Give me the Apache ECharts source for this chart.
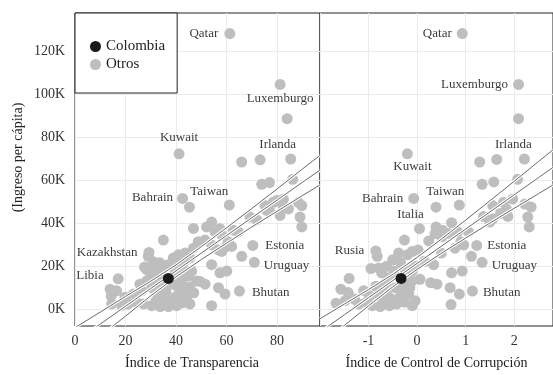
<!DOCTYPE html>
<html>
<head>
<meta charset="utf-8">
<script src="https://cdn.jsdelivr.net/npm/echarts@6/dist/echarts.min.js"></script>
<style>
  html, body { margin: 0; padding: 0; background: #fff; overflow: hidden; }
  #chart { width: 553px; height: 375px; }
</style>
</head>
<body>
<div id="chart"></div>
<script>
// ingreso per cápita en miles (K)
const yTicks = [0, 20, 40, 60, 80, 100, 120];

// panel izquierdo: índice de transparencia vs ingreso
const transOthers = [
  [84.0, 88.7], [66.0, 68.5], [73.3, 69.5],
  [73.9, 58.1], [77.0, 58.9], [86.2, 60.4], [45.3, 47.4],
  [75.2, 48.2], [78.5, 49.7], [82.5, 51.2], [77.0, 45.9], [81.2, 43.6], [88.4, 49.7],
  [89.8, 48.2], [89.1, 42.8], [89.8, 38.2], [69.3, 42.8], [72.0, 41.5], [75.9, 45.9],
  [84.5, 46.6], [82.5, 47.4], [79.9, 50.5],
  [57.4, 37.4], [46.9, 37.5], [54.1, 40.5], [52.1, 38.2], [55.4, 35.9], [58.1, 34.4],
  [62.7, 36.7], [64.7, 35.9], [60.7, 31.3], [62.0, 29.1], [58.1, 26.8], [66.0, 24.5], [59.8, 29.0],
  [35.0, 32.1], [29.0, 24.5], [46.9, 28.3], [48.8, 31.3], [51.5, 32.1], [54.1, 29.8],
  [56.8, 27.5], [43.6, 26.0], [45.5, 23.7], [40.9, 25.2], [38.9, 23.7], [40.3, 22.2],
  [42.9, 21.4], [54.1, 20.6], [57.4, 16.8], [60.1, 17.6], [48.2, 13.0], [51.5, 11.5],
  [56.8, 9.9], [59.4, 6.9], [54.1, 1.5], [45.5, 2.3], [44.2, 4.6], [43.6, 8.4], [42.2, 13.0],
  [44.9, 15.3], [46.2, 17.6], [43.6, 17.6], [39.6, 17.6], [33.7, 18.3], [31.7, 19.1],
  [28.4, 18.3], [29.7, 17.6], [33.0, 16.1], [34.3, 13.8], [31.7, 12.2], [30.4, 9.9],
  [32.3, 7.6], [34.3, 6.1], [36.3, 4.6], [38.3, 3.1], [40.3, 1.5], [37.0, 1.1], [33.7, 1.1],
  [30.4, 1.5], [27.1, 2.3], [24.4, 3.1], [21.1, 2.3], [18.5, 1.5], [14.5, 2.3], [14.3, 6.1],
  [13.9, 9.2], [16.5, 8.4], [19.8, 5.4], [23.1, 6.9], [26.4, 8.4], [28.4, 13.0], [25.7, 11.5],
  [40.9, 9.9], [38.9, 11.5], [41.6, 6.9], [39.6, 5.4], [45.5, 10.2], [36.0, 8.0], [35.0, 10.5],
  [38.0, 14.0], [41.0, 15.5], [36.5, 20.5], [33.5, 21.5], [31.0, 22.0], [27.5, 19.5],
  [30.0, 15.0], [32.0, 3.5], [35.5, 2.5], [42.5, 2.8], [47.0, 7.5], [49.5, 12.8]
];
const transNames = ['Qatar', 'Luxemburgo', 'Kuwait', 'Irlanda', 'Taiwan', 'Bahrain',
  'Kazakhstan', 'Libia', 'Estonia', 'Uruguay', 'Bhutan'];
const transX = [61.3, 81.2, 41.2, 85.4, 61.1, 42.6, 29.3, 17.1, 70.4, 71.0, 65.1];
const transY = [128.4, 104.7, 72.3, 69.9, 48.4, 51.5, 26.3, 14.0, 29.6, 21.7, 8.3];
const transColombia = [36.95, 14.2];

// panel derecho: índice de control de corrupción vs ingreso
const corrOthers = [
  [2.09, 88.7], [1.29, 68.5], [1.64, 69.7],
  [1.34, 58.1], [1.58, 59.2], [2.07, 60.4], [0.39, 47.4],
  [1.56, 48.2], [1.78, 49.7], [1.97, 51.2], [2.22, 48.9], [1.37, 43.1], [1.56, 42.0],
  [1.87, 43.1], [2.28, 42.8], [2.31, 38.2], [1.84, 46.6], [1.72, 44.5], [1.50, 40.5], [2.35, 47.5],
  [0.71, 40.2], [0.39, 38.2], [0.52, 36.7], [0.24, 31.7], [-0.26, 32.1], [0.02, 27.5],
  [-0.10, 26.8], [-0.20, 25.2], [0.51, 33.6], [0.65, 35.2], [0.84, 35.9], [1.06, 35.9],
  [0.96, 29.8], [0.78, 28.3], [0.50, 26.0], [1.12, 24.5], [0.37, 35.1], [0.90, 31.3],
  [-0.82, 24.5], [-0.50, 22.9], [-0.34, 21.4], [0.15, 22.2], [0.34, 20.6], [-0.95, 18.8],
  [-0.79, 19.1], [-0.73, 16.8], [-0.57, 14.5], [-0.10, 17.6], [0.06, 13.8], [0.28, 12.2],
  [0.41, 11.5], [0.71, 16.8], [0.93, 17.6], [0.68, 9.9], [0.87, 6.9], [0.70, 2.0],
  [-1.40, 14.2], [-1.57, 9.2], [-1.42, 7.6], [-1.67, 2.6], [-1.48, 3.8], [-1.29, 4.6],
  [-1.20, 2.3], [-1.04, 3.1], [-0.92, 1.5], [-0.76, 1.1], [-0.57, 1.5], [-0.42, 2.3],
  [-0.26, 3.1], [-0.10, 1.5], [-0.04, 3.8], [-0.17, 6.9], [-0.32, 8.4], [-0.45, 9.9],
  [-0.63, 8.4], [-0.79, 6.9], [-0.98, 6.1], [-0.26, 11.5], [-0.10, 13.0], [-0.48, 17.6],
  [-0.63, 19.9], [-0.38, 26.0], [-0.65, 12.0], [-0.85, 10.5], [-0.55, 5.0], [-0.35, 5.5],
  [-0.15, 10.0], [-0.05, 20.0], [-0.25, 18.5], [-1.10, 8.5], [-0.70, 3.5]
];
const corrNames = ['Qatar', 'Luxemburgo', 'Kuwait', 'Irlanda', 'Taiwan', 'Bahrain',
  'Italia', 'Rusia', 'Estonia', 'Uruguay', 'Bhutan'];
const corrX = [0.93, 2.09, -0.20, 2.21, 0.87, -0.07, 0.05, -0.85, 1.23, 1.34, 1.14];
const corrY = [128.4, 104.7, 72.3, 69.9, 48.4, 51.5, 37.4, 27.0, 29.6, 21.7, 8.3];
const corrColombia = [-0.33, 14.2];

// rectas de ajuste con bandas
const fitTransX = [0, 10, 20, 30, 40, 50, 60, 70, 80, 90, 97];
const fitTransMid = [-15.3, -7.1, 1.2, 9.5, 17.7, 26.0, 34.2, 42.5, 50.7, 59.0, 64.7];
const fitTransHi = [-8.8, -1.5, 5.8, 12.9, 20.5, 29.0, 37.8, 46.8, 55.9, 65.2, 71.6];
const fitTransLo = [-21.8, -12.7, -3.4, 6.1, 14.9, 23.0, 30.6, 38.2, 45.5, 52.8, 57.8];

const fitCorrX = [-2, -1.5, -1, -0.5, 0, 0.5, 1, 1.5, 2, 2.5, 2.8];
const fitCorrMid = [-10.8, -2.8, 5.2, 13.2, 21.2, 29.2, 37.2, 45.2, 53.2, 61.2, 66.0];
const fitCorrHi = [-4.6, 2.2, 9.0, 16.1, 24.0, 32.5, 41.4, 50.4, 59.5, 68.7, 74.2];
const fitCorrLo = [-17.0, -7.8, 1.4, 10.3, 18.4, 25.9, 33.0, 40.0, 46.9, 53.7, 57.8];

const FONT = 'Liberation Serif';
const GREY = '#bebebe';
const TEXT = '#333';

// where each country label goes: [position, distance, offset]
const transLabelPos = {
  Qatar: ['left', 6, [0, 0]],
  Luxemburgo: ['bottom', 2, [0, 0]],
  Kuwait: ['top', 4, [0, 0]],
  Irlanda: ['top', 2, [-13, 0]],
  Taiwan: ['top', 2, [-20, 0]],
  Bahrain: ['left', 4, [0, -1]],
  Kazakhstan: ['left', 6, [0, 0]],
  Libia: ['left', 9, [0, -3]],
  Estonia: ['right', 7, [0, 0]],
  Uruguay: ['right', 4, [0, 3]],
  Bhutan: ['right', 7, [0, 2]]
};
const corrLabelPos = {
  Qatar: ['left', 5, [0, 0]],
  Luxemburgo: ['left', 5, [0, 0]],
  Kuwait: ['bottom', 1, [5, 0]],
  Irlanda: ['top', 2, [-11, 0]],
  Taiwan: ['top', 2, [-14, 0]],
  Bahrain: ['left', 5, [0, 0]],
  Italia: ['top', 2, [-9, 0]],
  Rusia: ['left', 6, [0, 0]],
  Estonia: ['right', 5, [0, 0]],
  Uruguay: ['right', 4, [0, 3]],
  Bhutan: ['right', 5, [0, 2]]
};

function pointData(others, names, xs, ys, placement) {
  const data = others.map(p => ({ value: p }));
  names.forEach((n, i) => {
    const pl = placement[n];
    data.push({
      name: n,
      value: [xs[i], ys[i]],
      label: { show: true, position: pl[0], distance: pl[1], offset: pl[2] }
    });
  });
  return data;
}

function zip(xs, ys) {
  return xs.map((x, i) => [x, ys[i]]);
}

function fitLines(idx, xs, lines) {
  const out = [];
  lines.forEach(ys => {
    out.push({
      type: 'line', xAxisIndex: idx, yAxisIndex: idx, data: zip(xs, ys),
      showSymbol: false, silent: true, z: 3,
      lineStyle: { color: '#fff', width: 3 }
    });
    out.push({
      type: 'line', xAxisIndex: idx, yAxisIndex: idx, data: zip(xs, ys),
      showSymbol: false, silent: true, z: 4,
      lineStyle: { color: '#6a6a6a', width: 1 }
    });
  });
  return out;
}

function scatter(name, idx, data, color, z) {
  return {
    name, type: 'scatter', xAxisIndex: idx, yAxisIndex: idx, data,
    symbolSize: 11, z,
    itemStyle: { color, opacity: 1 },
    label: { show: false, formatter: '{b}', fontFamily: FONT, fontSize: 13, color: '#3d3d3d' },
    emphasis: { disabled: true }
  };
}

const gridStyle = { show: true, borderColor: '#222', borderWidth: 1, backgroundColor: 'transparent' };
const splitLine = { show: true, lineStyle: { color: '#ebebeb', width: 1 } };

function yAxis(idx, withLabels) {
  const ax = {
    type: 'value', gridIndex: idx, min: -8, max: 138,
    axisLine: { show: false },
    axisTick: { show: false, customValues: yTicks },
    axisLabel: {
      show: withLabels, customValues: yTicks, formatter: '{value}K',
      fontFamily: FONT, fontSize: 14, color: TEXT, margin: 10
    },
    splitLine
  };
  if (withLabels) {
    ax.name = '(Ingreso per cápita)';
    ax.nameLocation = 'middle';
    ax.nameGap = 50;
    ax.nameTextStyle = { fontFamily: FONT, fontSize: 14, color: '#222', padding: [0, 0, 0, 24] };
  }
  return ax;
}

const chart = echarts.init(document.getElementById('chart'));
chart.setOption({
  animation: false,
  backgroundColor: '#fff',
  grid: [
    Object.assign({ left: 75, right: 233, top: 13, bottom: 44 }, gridStyle),
    Object.assign({ left: 320, right: -22, top: 13, bottom: 44 }, gridStyle)
  ],
  legend: {
    data: ['Colombia', 'Otros'],
    orient: 'vertical', left: 75, top: 13,
    padding: [26, 12, 21, 15], itemGap: 3,
    itemWidth: 11, itemHeight: 11, icon: 'circle',
    backgroundColor: '#fff', borderColor: '#222', borderWidth: 1,
    textStyle: { fontFamily: FONT, fontSize: 15, color: '#222' },
    selectedMode: false, z: 10
  },
  xAxis: [
    {
      type: 'value', gridIndex: 0, min: 0, max: 97, interval: 20,
      axisLine: { show: false }, axisTick: { show: false },
      axisLabel: { fontFamily: FONT, fontSize: 14, color: TEXT, margin: 8, showMaxLabel: false },
      splitLine,
      name: 'Índice de Transparencia', nameLocation: 'middle', nameGap: 30,
      nameTextStyle: { fontFamily: FONT, fontSize: 14, color: '#222', padding: [0, 11, 0, 0] }
    },
    {
      type: 'value', gridIndex: 1, min: -2, max: 2.8, interval: 1,
      axisLine: { show: false }, axisTick: { show: false },
      axisLabel: { fontFamily: FONT, fontSize: 14, color: TEXT, margin: 8, showMinLabel: false, showMaxLabel: false },
      splitLine,
      name: 'Índice de Control de Corrupción', nameLocation: 'middle', nameGap: 30,
      nameTextStyle: { fontFamily: FONT, fontSize: 14, color: '#222' }
    }
  ],
  yAxis: [yAxis(0, true), yAxis(1, false)],
  series: [
    scatter('Otros', 0, pointData(transOthers, transNames, transX, transY, transLabelPos), GREY, 2),
    scatter('Otros', 1, pointData(corrOthers, corrNames, corrX, corrY, corrLabelPos), GREY, 2),
    ...fitLines(0, fitTransX, [fitTransHi, fitTransMid, fitTransLo]),
    ...fitLines(1, fitCorrX, [fitCorrHi, fitCorrMid, fitCorrLo]),
    scatter('Colombia', 0, [transColombia], '#1a1a1a', 5),
    scatter('Colombia', 1, [corrColombia], '#1a1a1a', 5)
  ]
});
</script>
</body>
</html>
